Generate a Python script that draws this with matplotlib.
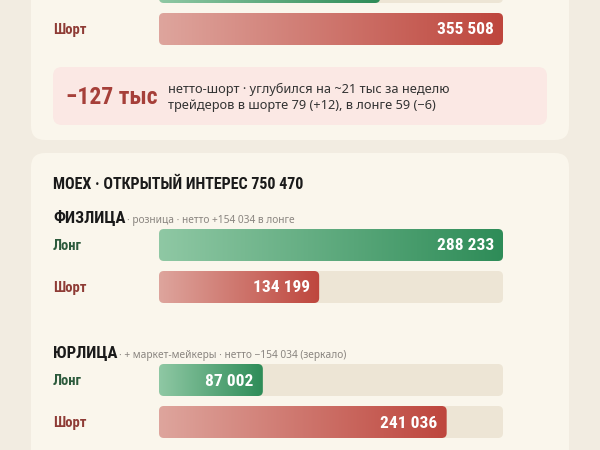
import numpy as np
import matplotlib.pyplot as plt
from matplotlib import font_manager as fm
from matplotlib.patches import FancyBboxPatch
from matplotlib.colors import LinearSegmentedColormap

# данные
top_long = 228508      # оценка: скрыт за верхним краем
top_short = 355508
moex_title = "MOEX · ОТКРЫТЫЙ ИНТЕРЕС 750 470"
groups = ["ФИЗЛИЦА", "ЮРЛИЦА"]
group_notes = ["· розница · нетто +154 034 в лонге",
               "· + маркет-мейкеры · нетто −154 034 (зеркало)"]
long_vals = [288233, 87002]
short_vals = [134199, 241036]
net_big = "−127 тыс"
net_lines = ["нетто-шорт · углубился на ~21 тыс за неделю",
             "трейдеров в шорте 79 (+12), в лонге 59 (−6)"]

# узкий жирный шрифт, если есть
fonts = [(f.name, f.stretch) for f in fm.fontManager.ttflist]
COND_KW = dict(family=["DejaVu Sans"], fontweight="bold")
for nm in ["Liberation Sans Narrow", "Roboto Condensed", "Open Sans Condensed",
           "Noto Sans Condensed"]:
    if any(n == nm for n, _ in fonts):
        COND_KW = dict(family=[nm, "DejaVu Sans"], fontweight="bold")
        break
else:
    if any(n == "DejaVu Sans" and s == "condensed" for n, s in fonts):
        COND_KW = dict(family=["DejaVu Sans"], fontweight="bold", fontstretch="condensed")
BODY = ["Noto Sans", "DejaVu Sans"]

BG = "#F2ECE1"
CARD = "#FAF6EC"
TRACK = "#EDE5D5"
green = LinearSegmentedColormap.from_list("g", ["#8FC8A4", "#2E8C58"])
red = LinearSegmentedColormap.from_list("r", ["#DEA59D", "#BE463D"])

fig = plt.figure(figsize=(6, 4.5), dpi=100)
fig.patch.set_facecolor(BG)
ax = fig.add_axes([0, 0, 1, 1])
ax.set_xlim(0, 600)
ax.set_ylim(450, 0)
ax.axis("off")

# карточки
ax.add_patch(FancyBboxPatch((31, -40), 538, 180, boxstyle="round,pad=0,rounding_size=14",
                            fc=CARD, ec="none"))
ax.add_patch(FancyBboxPatch((31, 153), 538, 330, boxstyle="round,pad=0,rounding_size=14",
                            fc=CARD, ec="none"))
ax.add_patch(FancyBboxPatch((53, 67), 494, 58, boxstyle="round,pad=0,rounding_size=9",
                            fc="#FBE8E4", ec="none"))

BAR_X0, BAR_W, BAR_H = 159, 344, 32


def bar_axes(vmax):
    a = fig.add_axes([BAR_X0 / 600, 0, BAR_W / 600, 1])
    a.set_xlim(0, vmax)
    a.set_ylim(450, 0)
    a.axis("off")
    a.patch.set_alpha(0)
    return a


def draw_bar(a, vmax, y, value, cmap):
    k = vmax / BAR_W
    a.add_patch(FancyBboxPatch((0, y), vmax, BAR_H,
                               boxstyle=f"round,pad=0,rounding_size={5 * k}",
                               mutation_aspect=1 / k, fc=TRACK, ec="none", zorder=1))
    clip = FancyBboxPatch((0, y), value, BAR_H,
                          boxstyle=f"round,pad=0,rounding_size={5 * k}",
                          mutation_aspect=1 / k, fc="none", ec="none", zorder=3)
    a.add_patch(clip)
    grad = np.linspace(0, 1, 256).reshape(1, -1)
    im = a.imshow(grad, extent=(0, value, y + BAR_H, y), cmap=cmap, aspect="auto",
                  zorder=2)
    im.set_clip_path(clip)
    if y >= 0:
        a.text(value - 9 * k, y + BAR_H / 2 + 1, f"{value:,}".replace(",", " "),
               ha="right", va="center", color="white", fontsize=12.5, **COND_KW)
    a.set_xlim(0, vmax)
    a.set_ylim(450, 0)


def side_label(y, txt, color):
    ax.text(53, y + BAR_H / 2 + 1, txt, ha="left", va="center", color=color,
            fontsize=10.5, **COND_KW)


# верхняя карточка
top_max = max(top_long, top_short)
ax_top = bar_axes(top_max)
draw_bar(ax_top, top_max, -29, top_long, green)
draw_bar(ax_top, top_max, 13, top_short, red)
side_label(13, "Шорт", "#8E3B35")

ax.text(66, 98, net_big, ha="left", va="center", color="#A63F39",
        fontsize=17, **COND_KW)
ax.text(168, 89, net_lines[0], ha="left", va="center", color="#333333",
        fontsize=9.2, family=BODY)
ax.text(168, 106, net_lines[1], ha="left", va="center", color="#333333",
        fontsize=9.2, family=BODY)

# MOEX
ax.text(53, 184, moex_title, ha="left", va="center", color="#1A1A1A",
        fontsize=11.5, **COND_KW)

moex_max = max(long_vals + short_vals)
ax_moex = bar_axes(moex_max)
head_y = [223, 358]
long_y = [229, 364]
short_y = [271, 406]
fig.canvas.draw()
for i, g in enumerate(groups):
    t = ax.text(53, head_y[i], g, ha="left", va="baseline", color="#1A1A1A",
                fontsize=12, **COND_KW)
    bb = t.get_window_extent(renderer=fig.canvas.get_renderer())
    x_end = ax.transData.inverted().transform((bb.x1, bb.y0))[0] + 2
    ax.text(x_end, head_y[i], group_notes[i], ha="left", va="baseline",
            color="#8A8580", fontsize=7.3, family=BODY)
    draw_bar(ax_moex, moex_max, long_y[i], long_vals[i], green)
    draw_bar(ax_moex, moex_max, short_y[i], short_vals[i], red)
    side_label(long_y[i], "Лонг", "#2C5A3C")
    side_label(short_y[i], "Шорт", "#8E3B35")

fig.savefig("out.png", dpi=100, facecolor=BG)
